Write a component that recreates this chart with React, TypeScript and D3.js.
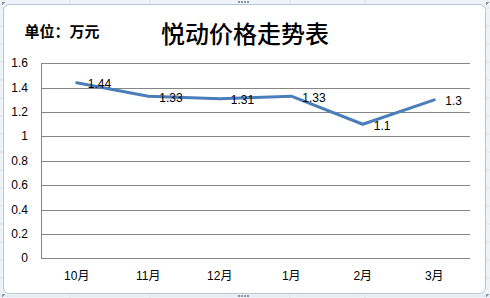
import React from "react";
import * as d3 from "d3";

const months = ["10月", "11月", "12月", "1月", "2月", "3月"];
const prices = [1.44, 1.33, 1.31, 1.33, 1.1, 1.3];
const yTicks = [0, 0.2, 0.4, 0.6, 0.8, 1, 1.2, 1.4, 1.6];
const title = "悦动价格走势表";
const unitLabel = "单位：万元";

const W = 490;
const H = 298;
const plot = { left: 41, right: 470, top: 63.3, bottom: 258.3 };

export default function App() {
  const x = d3
    .scaleBand<string>()
    .domain(months)
    .range([plot.left, plot.right])
    .paddingInner(0)
    .paddingOuter(0);
  const y = d3.scaleLinear().domain([0, 1.6]).range([plot.bottom, plot.top]);
  const cx = (m: string) => (x(m) as number) + x.bandwidth() / 2;
  const line = d3
    .line<number>()
    .x((_, i) => cx(months[i]))
    .y((d) => y(d));

  const sheetCols = [70, 150, 290, 365, 505];
  const sheetRows = [8, 26, 44, 62, 80, 98, 116, 134, 152, 170, 188, 206, 224, 242, 260, 278, 296];

  return (
    <div style={{ position: "fixed", left: 0, top: 0, width: W, height: H }}>
      <svg width={W} height={H} style={{ display: "block" }}>
        <rect x={0} y={0} width={W} height={H} fill="#eef3f8" />
        {sheetRows.map((r) => (
          <line key={"r" + r} x1={0} x2={W} y1={r} y2={r} stroke="#dbe5ef" strokeWidth={1} />
        ))}
        {sheetCols.map((c) => (
          <line key={"c" + c} x1={c} x2={c} y1={0} y2={H} stroke="#dbe5ef" strokeWidth={1} />
        ))}
        <rect
          x={3.5}
          y={4.5}
          width={482}
          height={289}
          rx={6}
          ry={6}
          fill="#ffffff"
          stroke="#b9c4d0"
          strokeWidth={1}
        />
        {/* selection handles */}
        {[
          [2, 2],
          [486, 2],
          [2, 294],
          [486, 294],
        ].map(([hx, hy], i) => (
          <g key={"h" + i} fill="#8a96a4">
            <rect x={hx} y={hy} width={2} height={2} />
            <rect x={hx + 2} y={hy} width={1} height={1} />
            <rect x={hx} y={hy + 2} width={1} height={1} />
          </g>
        ))}
        {[0, 1, 2, 3].map((i) => (
          <rect key={"t" + i} x={238 + i * 3} y={1} width={2} height={2} fill="#8a96a4" />
        ))}
        {[0, 1, 2, 3].map((i) => (
          <rect key={"b" + i} x={238 + i * 3} y={295} width={2} height={2} fill="#8a96a4" />
        ))}

        {/* titles */}
        <text
          x={62}
          y={30}
          textAnchor="middle"
          dominantBaseline="central"
          fontFamily="'Noto Sans CJK SC', sans-serif"
          fontWeight={700}
          fontSize={15}
          fill="#000"
        >
          {unitLabel}
        </text>
        <text
          x={245}
          y={32}
          textAnchor="middle"
          dominantBaseline="central"
          fontFamily="'Noto Sans CJK SC', sans-serif"
          fontWeight={500}
          fontSize={24}
          fill="#000"
        >
          {title}
        </text>

        {/* gridlines */}
        {yTicks.map((t) => (
          <line
            key={"g" + t}
            x1={plot.left}
            x2={plot.right}
            y1={Math.round(y(t)) + 0.5}
            y2={Math.round(y(t)) + 0.5}
            stroke="#868686"
            strokeWidth={1}
          />
        ))}
        <line
          x1={plot.left + 0.5}
          x2={plot.left + 0.5}
          y1={Math.round(y(1.6)) + 0.5}
          y2={Math.round(y(0)) + 0.5}
          stroke="#868686"
          strokeWidth={1}
        />

        {/* y tick labels */}
        {yTicks.map((t) => (
          <text
            key={"yl" + t}
            x={28}
            y={y(t)}
            textAnchor="end"
            dominantBaseline="central"
            fontFamily="'Liberation Sans', Arial, sans-serif"
            fontSize={12}
            fill="#000"
          >
            {d3.format("~g")(t)}
          </text>
        ))}

        {/* x labels */}
        {months.map((m) => (
          <text
            key={"xl" + m}
            x={cx(m)}
            y={276}
            textAnchor="middle"
            dominantBaseline="central"
            fontFamily="'Liberation Sans', 'Noto Sans CJK SC', sans-serif"
            fontSize={12}
            fill="#000"
          >
            {m}
          </text>
        ))}

        {/* series line */}
        <path
          d={line(prices) || ""}
          fill="none"
          stroke="#4a7ebb"
          strokeWidth={3}
          strokeLinejoin="round"
          strokeLinecap="round"
        />

        {/* data labels */}
        {prices.map((p, i) => (
          <text
            key={"dl" + i}
            x={cx(months[i]) + 11}
            y={y(p) + 1.5}
            textAnchor="start"
            dominantBaseline="central"
            fontFamily="'Liberation Sans', Arial, sans-serif"
            fontSize={12}
            fill="#000"
          >
            {p}
          </text>
        ))}
      </svg>
    </div>
  );
}
